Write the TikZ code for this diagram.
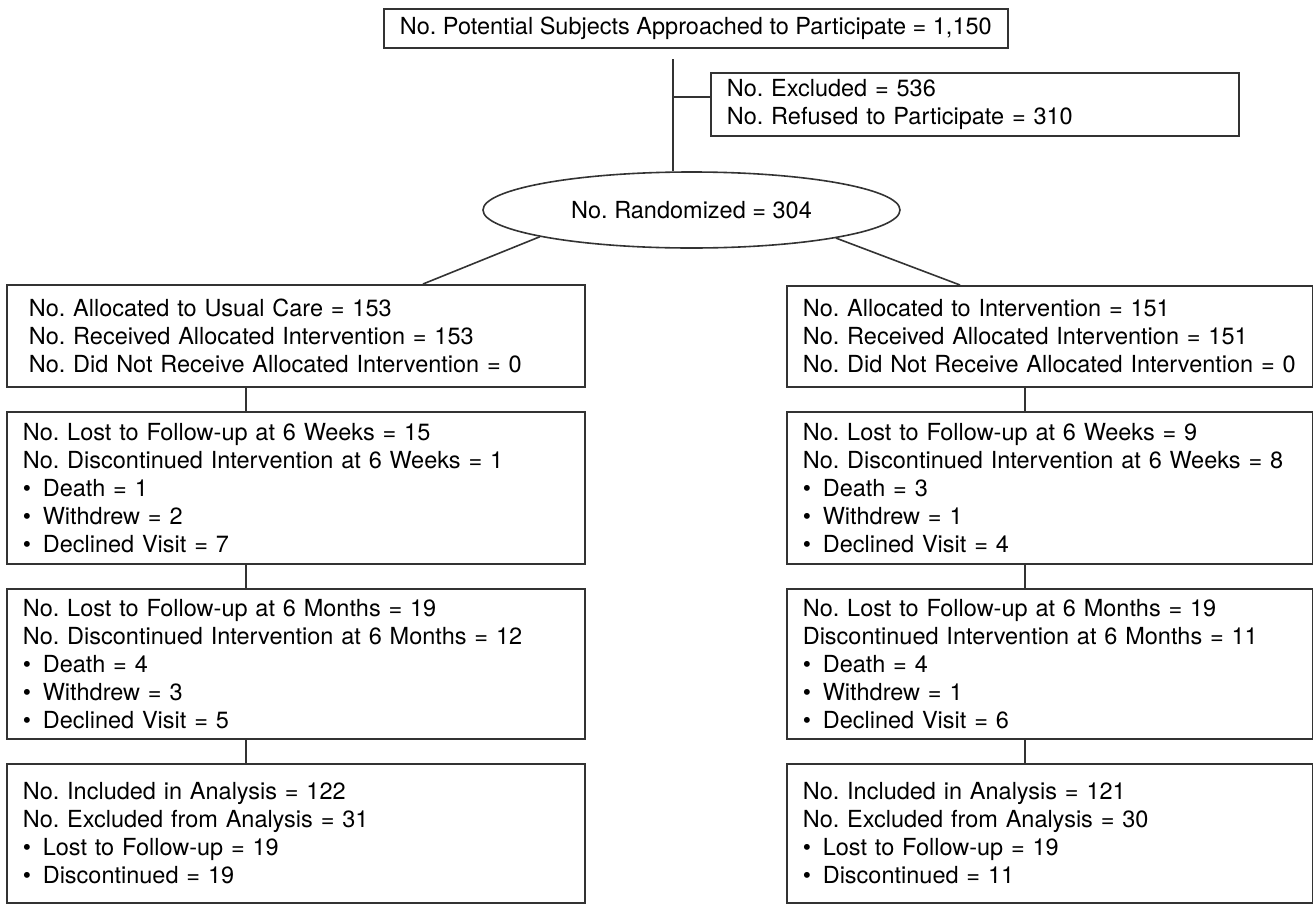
\documentclass[tikz,border=0pt]{standalone}
\usepackage{fontspec}
\setmainfont{TeX Gyre Heros}
\usetikzlibrary{shapes.geometric}

\tikzset{
  box/.style={draw=black!80, line width=1.6pt, rectangle, anchor=north west, align=left,
    inner xsep=16pt, inner ysep=0pt, font=\fontsize{23.5}{28}\selectfont},
  line/.style={draw=black!80, line width=1.6pt},
}
\newcommand{\bul}{\makebox[20pt][l]{\hspace{0pt}•}}
\frenchspacing

\begin{document}
\begin{tikzpicture}[x=1pt,y=-1pt]
\useasboundingbox (0,0) rectangle (1313,905);
\path (383,8) node[box, align=center, inner sep=0pt, minimum width=624pt, minimum height=39pt] (appr)
			{No. Potential Subjects Approached to Participate = 1,150}
		(710,72) node[box, text width=496pt, minimum height=63pt] (excl)
			{No. Excluded = 536\\No. Refused to Participate = 310}
		(691.5,210) node[draw=black!80, line width=1.6pt, ellipse, minimum width=417pt, minimum height=76pt,
			inner sep=0pt, font=\fontsize{23.5}{28}\selectfont] (rand) {No. Randomized = 304}
		(6,284) node[box, inner xsep=22pt, text width=534pt, minimum height=102pt] (care)
			{No. Allocated to Usual Care = 153\\No. Received Allocated Intervention = 153\\No. Did Not Receive Allocated Intervention = 0}
		(6,411) node[box, text width=546pt, minimum height=152pt] (wkc)
			{No. Lost to Follow-up at 6 Weeks = 15\\No. Discontinued Intervention at 6 Weeks = 1\\\bul Death = 1\\\bul Withdrew = 2\\\bul Declined Visit = 7}
		(6,588) node[box, text width=546pt, minimum height=150pt] (moc)
			{No. Lost to Follow-up at 6 Months = 19\\No. Discontinued Intervention at 6 Months = 12\\\bul Death = 4\\\bul Withdrew = 3\\\bul Declined Visit = 5}
		(6,763) node[box, text width=546pt, minimum height=139pt] (anc)
			{No. Included in Analysis = 122\\No. Excluded from Analysis = 31\\\bul Lost to Follow-up = 19\\\bul Discontinued = 19}
		(786,285) node[box, text width=494pt, minimum height=101pt] (int)
			{No. Allocated to Intervention = 151\\No. Received Allocated Intervention = 151\\No. Did Not Receive Allocated Intervention = 0}
		(786,411) node[box, text width=494pt, minimum height=152pt] (wki)
			{No. Lost to Follow-up at 6 Weeks = 9\\No. Discontinued Intervention at 6 Weeks = 8\\\bul Death = 3\\\bul Withdrew = 1\\\bul Declined Visit = 4}
		(786,588) node[box, text width=494pt, minimum height=150pt] (moi)
			{No. Lost to Follow-up at 6 Months = 19\\Discontinued Intervention at 6 Months = 11\\\bul Death = 4\\\bul Withdrew = 1\\\bul Declined Visit = 6}
		(786,763) node[box, text width=494pt, minimum height=139pt] (ani)
			{No. Included in Analysis = 121\\No. Excluded from Analysis = 30\\\bul Lost to Follow-up = 19\\\bul Discontinued = 11}
		;

\coordinate (t0) at (673,59);
\coordinate (br) at (673,97);

\draw[line]	(t0) -- (t0 |- rand.north);
\draw[line]	(br) -- (br -| excl.west);
\draw[line]	(node cs:name=rand, angle=190.4) -- ([xshift=417pt]node cs:name=care, anchor=north west);
\draw[line]	(node cs:name=rand, angle=349.6) -- ([xshift=174pt]node cs:name=int, anchor=north west);
\draw[line]	([xshift=240pt]node cs:name=care, anchor=south west) -- ([xshift=240pt]node cs:name=wkc, anchor=north west);
\draw[line]	([xshift=240pt]node cs:name=wkc, anchor=south west) -- ([xshift=240pt]node cs:name=moc, anchor=north west);
\draw[line]	([xshift=240pt]node cs:name=moc, anchor=south west) -- ([xshift=240pt]node cs:name=anc, anchor=north west);
\draw[line]	([xshift=239pt]node cs:name=int, anchor=south west) -- ([xshift=239pt]node cs:name=wki, anchor=north west);
\draw[line]	([xshift=239pt]node cs:name=wki, anchor=south west) -- ([xshift=239pt]node cs:name=moi, anchor=north west);
\draw[line]	([xshift=239pt]node cs:name=moi, anchor=south west) -- ([xshift=239pt]node cs:name=ani, anchor=north west);
\end{tikzpicture}
\end{document}
